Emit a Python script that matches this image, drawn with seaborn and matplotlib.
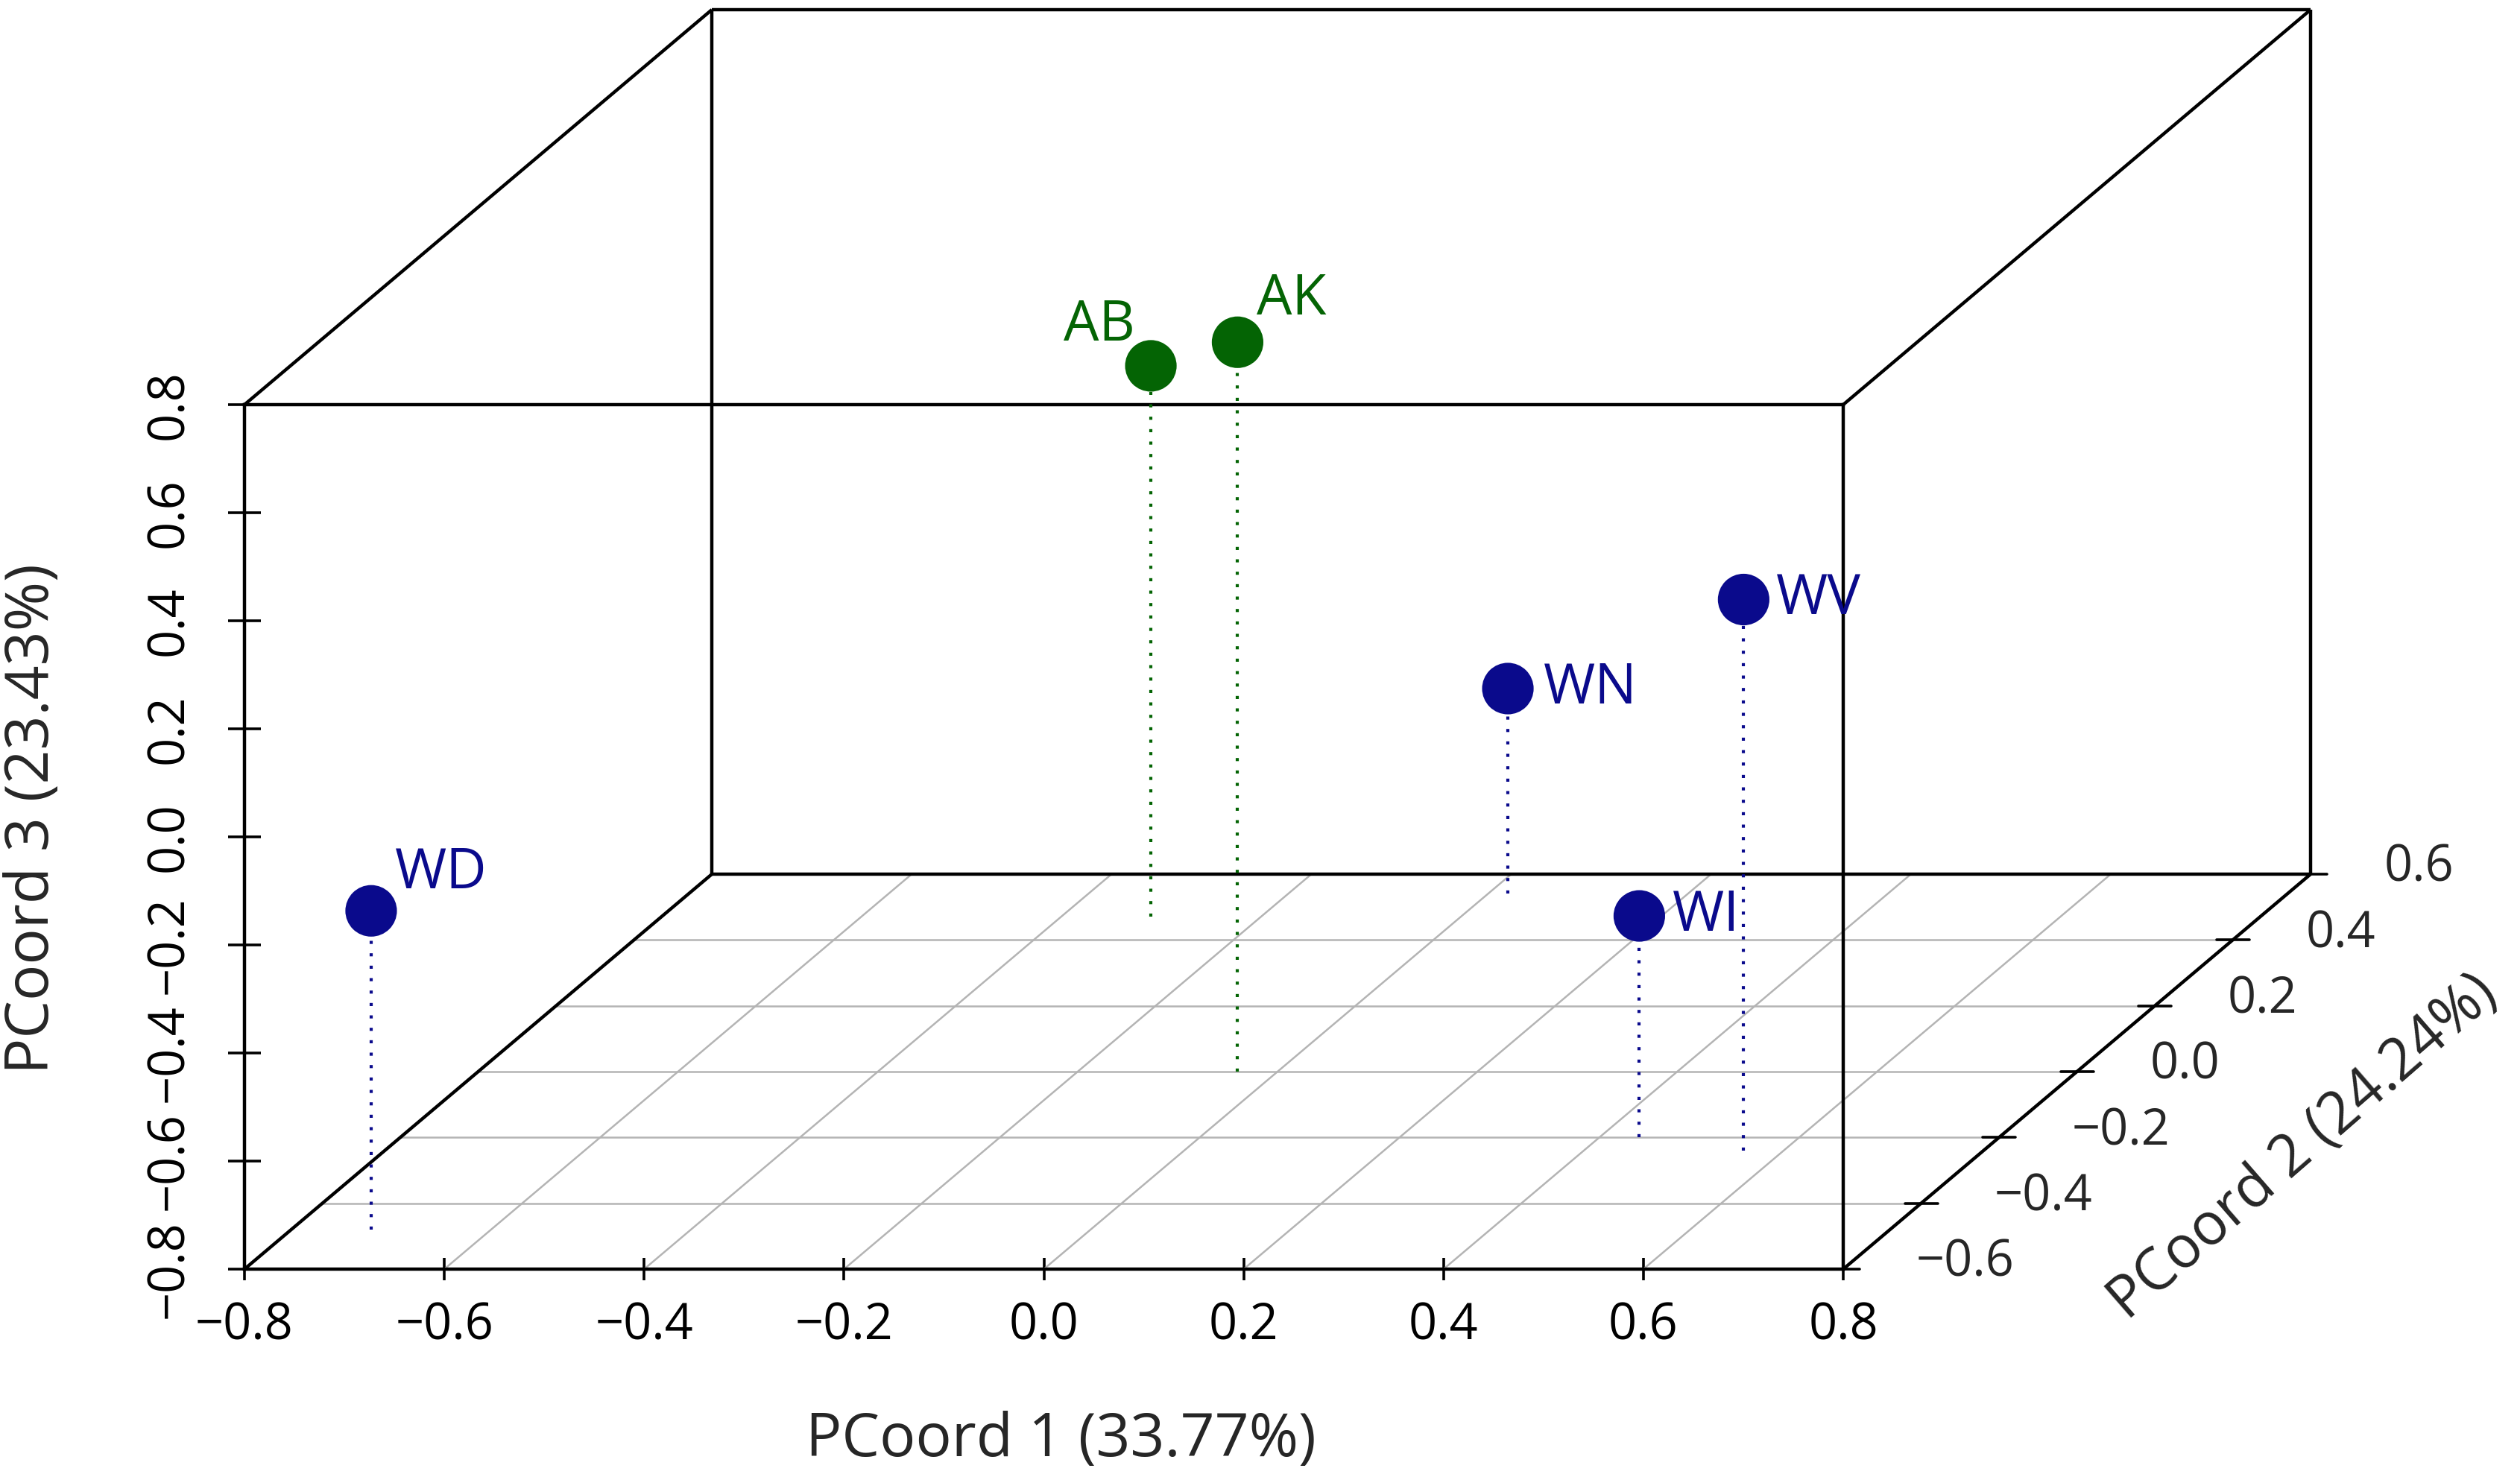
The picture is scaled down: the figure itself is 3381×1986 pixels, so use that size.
import numpy as np
import pandas as pd
import seaborn as sns
import matplotlib.pyplot as plt

# PCoA scores (PCoord 1, 2, 3)
samples = ["WD", "AB", "AK", "WN", "WI", "WV"]
groups = ["W", "A", "A", "W", "W", "W"]
pcoord1 = [-0.72, -0.31, -0.04, 0.02, 0.44, 0.56]
pcoord2 = [-0.48, 0.47, 0.00, 0.54, -0.20, -0.24]
pcoord3 = [-0.21, 0.22, 0.55, -0.42, -0.39, 0.22]

x_ticks = [-0.8, -0.6, -0.4, -0.2, 0.0, 0.2, 0.4, 0.6, 0.8]
y_ticks = [-0.6, -0.4, -0.2, 0.0, 0.2, 0.4, 0.6]
z_ticks = [-0.8, -0.6, -0.4, -0.2, 0.0, 0.2, 0.4, 0.6, 0.8]

x_label = "PCoord 1 (33.77%)"
y_label = "PCoord 2 (24.24%)"
z_label = "PCoord 3 (23.43%)"

palette = {"W": "#0a0a8c", "A": "#046404"}

# label placement next to each point (offset in points, alignment)
label_pos = {
    "WD": ((11.5, 10.8), "left"),
    "AB": ((-24.8, 12.2), "center"),
    "AK": ((26.0, 13.3), "center"),
    "WN": ((17.3, -7.2), "left"),
    "WI": ((16.2, -7.0), "left"),
    "WV": ((15.5, -7.0), "left"),
}

xlim = (x_ticks[0], x_ticks[-1])
ylim = (y_ticks[0], y_ticks[-1])
zlim = (z_ticks[0], z_ticks[-1])

# oblique (scatterplot3d-like) projection: depth axis shifts up and right
kx, kz = 0.3898, 0.6092


def proj(x, y, z):
    x = np.asarray(x, float)
    y = np.asarray(y, float)
    z = np.asarray(z, float)
    d = y - ylim[0]
    return x + d * kx, z + d * kz


def tick_text(t):
    return f"{t:.1f}".replace("-", "\u2212")


sns.set_style("white")
plt.rcParams["font.family"] = ["Open Sans", "DejaVu Sans"]

W, H, DPI = 3381, 1986, 200
fig = plt.figure(figsize=(W / DPI, H / DPI), dpi=DPI)
ax = fig.add_axes([328 / W, 1 - 1703 / H, (2473 - 328) / W, (1703 - 543) / H])
ax.set_xlim(xlim)
ax.set_ylim(zlim)

grid_color = "#b4b4b4"
line_kw = dict(color="black", lw=1.6, clip_on=False, solid_capstyle="butt")

# floor grid
for yt in y_ticks:
    u, v = proj(xlim, [yt, yt], [zlim[0], zlim[0]])
    ax.plot(u, v, color=grid_color, lw=0.9, clip_on=False, zorder=1)
for xt in x_ticks:
    u, v = proj([xt, xt], ylim, [zlim[0], zlim[0]])
    ax.plot(u, v, color=grid_color, lw=0.9, clip_on=False, zorder=1)

# back face and the four connecting edges
for xs, ys, zs in [
    (xlim, [ylim[1]] * 2, [zlim[0]] * 2),
    (xlim, [ylim[1]] * 2, [zlim[1]] * 2),
    ([xlim[0]] * 2, [ylim[1]] * 2, zlim),
    ([xlim[1]] * 2, [ylim[1]] * 2, zlim),
    ([xlim[0]] * 2, ylim, [zlim[0]] * 2),
    ([xlim[1]] * 2, ylim, [zlim[0]] * 2),
    ([xlim[0]] * 2, ylim, [zlim[1]] * 2),
    ([xlim[1]] * 2, ylim, [zlim[1]] * 2),
]:
    u, v = proj(xs, ys, zs)
    ax.plot(u, v, zorder=2, **line_kw)

for sp in ax.spines.values():
    sp.set_visible(True)
    sp.set_linewidth(1.6)
    sp.set_color("black")

# depth axis ticks and labels along the right floor edge
half = 22 / 1340.6
for yt in y_ticks:
    u, v = proj(xlim[1], yt, zlim[0])
    ax.plot([u - half, u + half], [v, v], color="black", lw=1.3, clip_on=False, zorder=2)
    ax.annotate(tick_text(yt), (u, v), xytext=(35.3, 2.9), textcoords="offset points",
                ha="left", va="center", fontsize=24, annotation_clip=False)

df = pd.DataFrame({"sample": samples, "group": groups,
                   "x": pcoord1, "y": pcoord2, "z": pcoord3})
df["u"], df["v"] = proj(df["x"], df["y"], df["z"])
_, df["v0"] = proj(df["x"], df["y"], np.full(len(df), zlim[0]))

# drop lines to the floor
for _, r in df.iterrows():
    ax.plot([r["u"], r["u"]], [r["v0"], r["v"]], color=palette[r["group"]],
            lw=1.5, ls=(0, (1, 3.0)), clip_on=False, zorder=3)

sns.scatterplot(data=df, x="u", y="v", hue="group", palette=palette, s=620,
                linewidth=0, legend=False, ax=ax, clip_on=False, zorder=4)

for _, r in df.iterrows():
    off, ha = label_pos[r["sample"]]
    ax.annotate(r["sample"], (r["u"], r["v"]), xytext=off, textcoords="offset points",
                ha=ha, va="baseline", fontsize=27, color=palette[r["group"]],
                annotation_clip=False, zorder=5)

ax.set_xticks(x_ticks)
ax.set_xticklabels([tick_text(t) for t in x_ticks])
ax.set_yticks(z_ticks)
ax.set_yticklabels([tick_text(t) for t in z_ticks])
ax.tick_params(axis="x", direction="inout", length=10.8, width=1.3, labelsize=24, pad=10,
               bottom=True, colors="black")
ax.tick_params(axis="y", direction="inout", length=15.8, width=1.3, labelsize=24, pad=16,
               left=True, labelrotation=90, colors="black")
for lab in ax.get_yticklabels():
    lab.set_va("center")
ax.set_xlabel("")
ax.set_ylabel("")

fig.text(1423 / W, 1 - 1933 / H, x_label, ha="center", va="center", fontsize=29)
fig.text(44 / W, 1 - 1099 / H, z_label, ha="center", va="center", rotation=90, fontsize=29)
fig.text(3090 / W, 1 - 1540 / H, y_label, ha="center", va="center", rotation=41,
         rotation_mode="anchor", fontsize=28)

fig.savefig("out.png", dpi=DPI, facecolor="white")
